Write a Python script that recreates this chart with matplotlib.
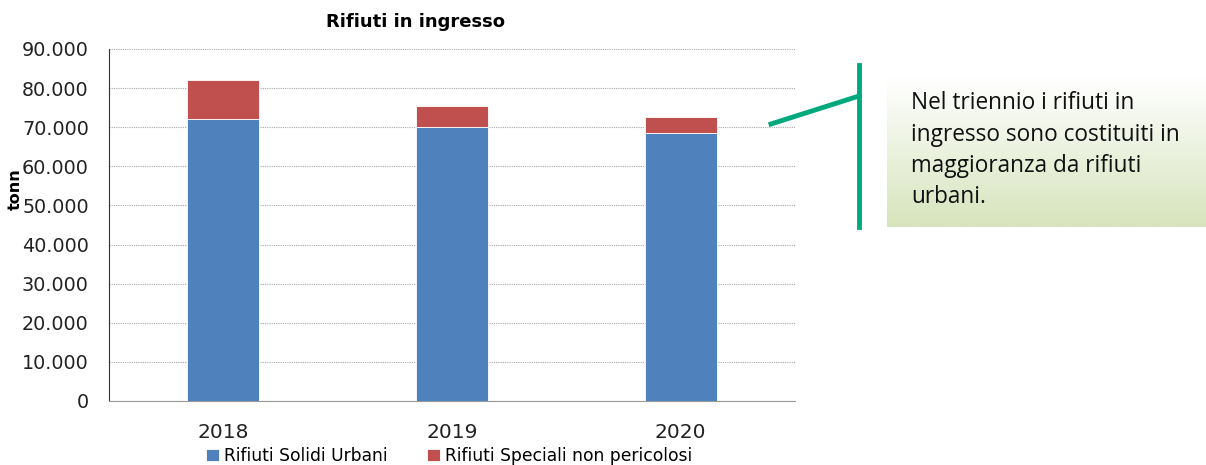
import matplotlib.pyplot as plt
import numpy as np
from matplotlib.colors import LinearSegmentedColormap
from matplotlib.lines import Line2D

# values (tonnes)
years = ['2018', '2019', '2020']
rsu = [72000, 70000, 68500]            # Rifiuti Solidi Urbani
speciali = [10100, 5300, 4200]         # Rifiuti Speciali non pericolosi

W, H = 1206, 465
fig = plt.figure(figsize=(W / 100, H / 100), dpi=100)

# main axes in pixel coords: x 109..795, y 49..401
ax = fig.add_axes([109 / W, 1 - 401 / H, (795 - 109) / W, (401 - 49) / H])
x = np.arange(len(years))
ax.bar(x, rsu, width=0.315, color='#4f81bd', edgecolor='white', linewidth=0.6,
       label='Rifiuti Solidi Urbani', zorder=3)
ax.bar(x, speciali, width=0.315, bottom=rsu, color='#c0504d', edgecolor='white',
       linewidth=0.6, label='Rifiuti Speciali non pericolosi', zorder=3)

ax.set_xlim(-0.5, 2.5)
ax.set_ylim(0, 90000)
ax.set_yticks(np.arange(0, 90001, 10000))
ax.set_yticklabels([f'{v:,}'.replace(',', '.') for v in range(0, 90001, 10000)],
                   fontsize=13.8, color='#222222')
ax.set_xticks(x)
ax.set_xticklabels(years, fontsize=14.5, color='#222222')
ax.tick_params(axis='x', length=0, pad=16)
ax.tick_params(axis='y', length=0, pad=14.5)
ax.grid(axis='y', color='#aaaaaa', linestyle=(0, (1, 1)), linewidth=0.8, zorder=0)
for s in ['top', 'right']:
    ax.spines[s].set_visible(False)
ax.spines['left'].set_color('#333333')
ax.spines['bottom'].set_color('#999999')

fig.text(15 / W, 1 - 189 / H, 'tonn', rotation=90, fontsize=11.5, fontweight='bold',
         ha='center', va='center')
fig.text(416 / W, 1 - 22 / H, 'Rifiuti in ingresso', fontsize=13, fontweight='bold',
         ha='center', va='center')

handles, labels = ax.get_legend_handles_labels()
fig.legend(handles, labels, loc='center', bbox_to_anchor=(449 / W, 1 - 456 / H),
           ncol=2, frameon=False, fontsize=12.3, handlelength=0.75, handleheight=0.75,
           handletextpad=0.3, columnspacing=2.3, borderpad=0)

# callout lines
fig.add_artist(Line2D([859 / W, 859 / W], [1 - 65 / H, 1 - 227 / H], color='#00a87e',
                      linewidth=3.5, transform=fig.transFigure))
fig.add_artist(Line2D([771 / W, 859 / W], [1 - 124 / H, 1 - 96 / H], color='#00a87e',
                      linewidth=3.5, transform=fig.transFigure))

# gradient box
bx = fig.add_axes([887 / W, 1 - 227 / H, (1206 - 887) / W, (227 - 78) / H])
cmap = LinearSegmentedColormap.from_list('g', ['#ffffff', '#d7e4bd'])
bx.imshow(np.linspace(0, 1, 100).reshape(-1, 1), aspect='auto', cmap=cmap,
          extent=[0, 1, 0, 1], origin='upper')
bx.set_axis_off()
bx.text(0.075, 0.515, 'Nel triennio i rifiuti in\ningresso sono costituiti in\n'
        'maggioranza da rifiuti\nurbani.', fontsize=16.3, family='Open Sans',
        va='center', ha='left', linespacing=1.4, color='#111111')

fig.savefig('out.png', dpi=100)
